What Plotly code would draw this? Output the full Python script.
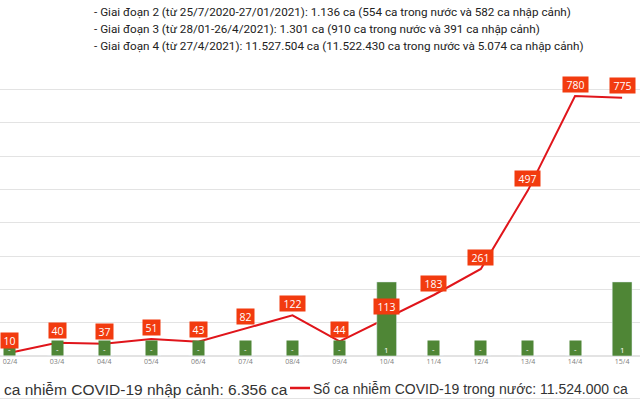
import plotly.graph_objects as go

categories = ["02/4", "03/4", "04/4", "05/4", "06/4", "07/4", "08/4",
              "09/4", "10/4", "11/4", "12/4", "13/4", "14/4", "15/4"]
domestic = [10, 40, 37, 51, 43, 82, 122, 44, 113, 183, 261, 497, 780, 775]
imported = [0, 0, 0, 0, 0, 0, 0, 0, 1, 0, 0, 0, 0, 1]
imported_labels = ["-" if v == 0 else str(v) for v in imported]

header_lines = [
    "- Giai đoạn 2 (từ 25/7/2020-27/01/2021): 1.136 ca (554 ca trong nước và 582 ca nhập cảnh)",
    "- Giai đoạn 3 (từ 28/01-26/4/2021): 1.301 ca (910 ca trong nước và 391 ca nhập cảnh)",
    "- Giai đoạn 4 (từ 27/4/2021): 11.527.504 ca (11.522.430 ca trong nước và 5.074 ca nhập cảnh)",
]
legend_imported = "ca nhiễm COVID-19 nhập cảnh: 6.356 ca"
legend_domestic = "Số ca nhiễm COVID-19 trong nước: 11.524.000 ca"

W, H = 640, 400
T, B = 56, 44
PH = H - T - B

def py(p):
    return (H - B - p) / PH

GREEN = "#4f8636"
RED_LINE = "#e0151b"
RED_LABEL = "#f23b0f"

fig = go.Figure()
fig.add_trace(go.Bar(x=categories, y=imported, yaxis="y2", marker_color=GREEN,
                     width=0.42, showlegend=False, hoverinfo="skip"))
fig.add_trace(go.Scatter(x=categories, y=domestic, mode="lines",
                         line=dict(color=RED_LINE, width=2), showlegend=False))

ann = []
for c, v, lab in zip(categories, imported, imported_labels):
    if v == 0:
        ann.append(dict(x=c, y=0, xref="x", yref="y2", text=lab, showarrow=False,
                        yshift=8, bgcolor=GREEN, width=9, height=12,
                        font=dict(family="Open Sans", size=8, color="white")))
    else:
        ann.append(dict(x=c, y=0, xref="x", yref="y2", text=lab, showarrow=False,
                        yshift=7, font=dict(family="Open Sans", size=8, color="white")))
for c, v in zip(categories, domestic):
    s = str(v)
    ann.append(dict(x=c, y=v, xref="x", yref="y", text=s, showarrow=False,
                    yshift=12, bgcolor=RED_LABEL, width=8 * len(s) - 1, height=13,
                    font=dict(family="Open Sans", size=10.5, color="white")))

for t, yp in zip(header_lines, [12, 29, 45.5]):
    ann.append(dict(x=92 / W, y=py(yp), xref="paper", yref="paper", text=t,
                    showarrow=False, xanchor="left", yanchor="middle",
                    font=dict(family="Roboto", size=11.7, color="#222222")))

ann.append(dict(x=2 / W, y=py(389), xref="paper", yref="paper", text=legend_imported,
                showarrow=False, xanchor="left", yanchor="middle",
                font=dict(family="Liberation Sans", size=15.5, color="#333333")))
ann.append(dict(x=311 / W, y=py(389), xref="paper", yref="paper", text=legend_domestic,
                showarrow=False, xanchor="left", yanchor="middle",
                font=dict(family="Liberation Sans", size=14, color="#333333")))

shapes = [
    dict(type="line", xref="paper", yref="paper", x0=290 / W, x1=310 / W,
         y0=py(388), y1=py(388), line=dict(color=RED_LINE, width=2.5)),
    dict(type="line", xref="paper", yref="paper", x0=0, x1=1,
         y0=py(398.5), y1=py(398.5), line=dict(color="#e3e3e3", width=1)),
]

fig.update_layout(
    width=W, height=H,
    margin=dict(l=0, r=0, t=T, b=B),
    paper_bgcolor="white", plot_bgcolor="white",
    xaxis=dict(type="category", range=[-0.212, 13.38], showgrid=False,
               tickfont=dict(family="Open Sans", size=7, color="#808080"),
               ticks="", showline=False, zeroline=False),
    yaxis=dict(range=[0, 900], dtick=100, showgrid=True, gridcolor="#e3e3e3",
               gridwidth=1, showticklabels=False, zeroline=True, zerolinecolor="#e3e3e3"),
    yaxis2=dict(range=[0, 4.05], overlaying="y", side="right", showgrid=False,
                showticklabels=False, zeroline=False),
    annotations=ann,
    shapes=shapes,
    bargap=0.5,
)

fig.write_html("out.html", config={"displayModeBar": False},
               post_script="document.body.style.margin='0';")
